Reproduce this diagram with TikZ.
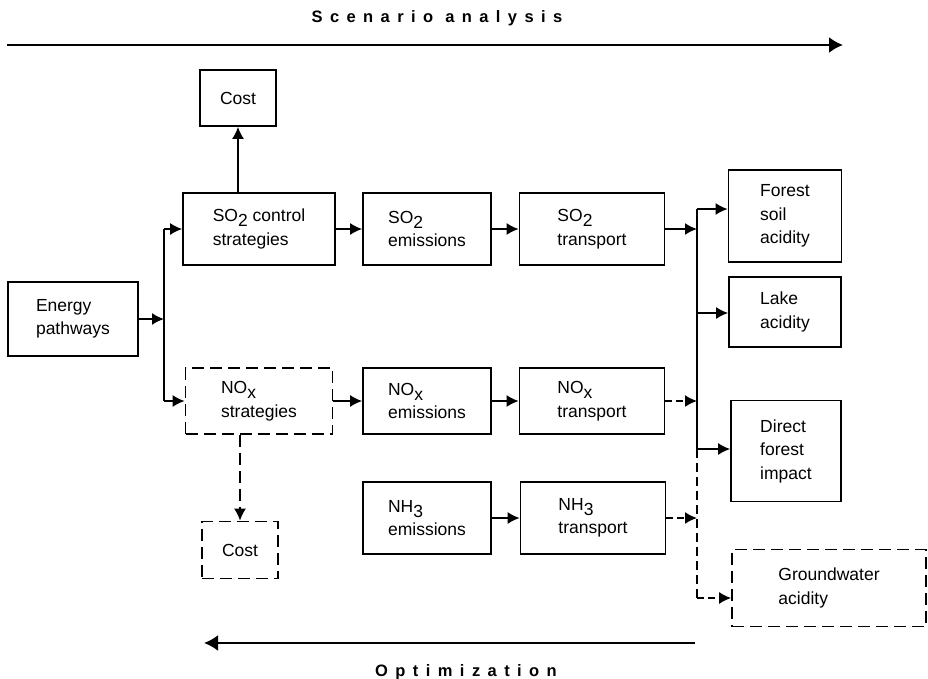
\documentclass[tikz,border=0pt]{standalone}
\usepackage{fontspec}
\setmainfont{Liberation Sans}
\newfontfamily\spacedfont[LetterSpace=45]{Liberation Sans}
\usetikzlibrary{arrows.meta}
\newcommand{\lowsub}[1]{\raisebox{-0.55ex}{#1}}

\begin{document}
\begin{tikzpicture}[x=1pt, y=-1pt, line width=1.7pt,
  box/.style={draw, align=left, inner sep=0pt, font=\fontsize{17.5}{23.5}\selectfont},
  dbox/.style={box, dash pattern=on 12pt off 6pt},
  tip/.style={-{Latex[length=12pt,width=12pt]}},
  dtip/.style={tip, dash pattern=on 7pt off 4pt},
  title/.style={font=\spacedfont\bfseries\fontsize{16.5}{18}\selectfont}]
\useasboundingbox (0,0) rectangle (928,678);

% scenario and optimization directions
\node[title] (scen) at (437,18) {Scenario analysis};
\node[title] (optim) at (466,672) {Optimization};
\coordinate (sa0) at (7,45);
\coordinate (sa1) at (843,45);
\coordinate (op0) at (695,643);
\coordinate (op1) at (204,643);
\draw[-{Latex[length=14pt,width=16pt]}, line width=2.2pt] (sa0) -- (sa1);
\draw[-{Latex[length=14pt,width=16pt]}, line width=2.2pt] (op0) -- (op1);

% boxes
\node[box, minimum width=130pt, minimum height=74pt] (energy) at (73,319) {Energy\\pathways};
\node[box, minimum width=76pt, minimum height=56pt] (costtop) at (238,98) {Cost};
\node[box, minimum width=152pt, minimum height=72pt] (so2ctl) at (259,229) {SO\lowsub{2} control\\strategies};
\node[box, minimum width=128pt, minimum height=72pt] (so2em) at (427,229) {SO\lowsub{2}\\emissions};
\node[box, minimum width=145pt, minimum height=72pt] (so2tr) at (592,229) {SO\lowsub{2}\\transport};
\node[dbox, minimum width=147pt, minimum height=66pt] (noxst) at (259,401) {NO\lowsub{x}\\strategies};
\node[box, minimum width=128pt, minimum height=66pt] (noxem) at (427,401) {NO\lowsub{x}\\emissions};
\node[box, minimum width=145pt, minimum height=66pt] (noxtr) at (592,401) {NO\lowsub{x}\\transport};
\node[box, minimum width=128pt, minimum height=72pt] (nh3em) at (427,518) {NH\lowsub{3}\\emissions};
\node[box, minimum width=145pt, minimum height=72pt] (nh3tr) at (593,518) {NH\lowsub{3}\\transport};
\node[dbox, minimum width=76pt, minimum height=57pt] (costbot) at (240,550) {Cost};
\node[box, minimum width=113pt, minimum height=92pt] (forest) at (785,216) {Forest\\soil\\acidity};
\node[box, minimum width=112pt, minimum height=70pt] (lake) at (785,312) {Lake\\acidity};
\node[box, minimum width=110pt, minimum height=101pt] (direct) at (786,451) {Direct\\forest\\impact};
\node[dbox, minimum width=194pt, minimum height=77pt] (ground) at (829,588) {Groundwater\\acidity};

% left branch
\coordinate (lbus) at (164,319);
\draw[tip] (energy.east) -- (energy.east -| lbus);
\draw (so2ctl.west -| lbus) -- (noxst.west -| lbus);
\draw[tip] (so2ctl.west -| lbus) -- (so2ctl.west);
\draw[tip] (noxst.west -| lbus) -- (noxst.west);

% chains
\foreach \a/\b in {so2ctl/so2em, so2em/so2tr, noxst/noxem, noxem/noxtr, nh3em/nh3tr}
  \draw[tip] (\a.east) -- (\a.east -| \b.west);
\draw[tip] (so2ctl.north -| costtop) -- (costtop.south);
\draw[tip, dash pattern=on 12pt off 6pt] (noxst.south -| costbot) -- (costbot.north);

% right branch
\coordinate (rbF) at (697,209);
\coordinate (rbL) at (697,313);
\coordinate (rbD) at (697,449);
\coordinate (rbG) at (697,598);
\draw (rbF) -- (rbD);
\draw[dash pattern=on 9pt off 5pt] (rbD) -- (rbG);
\draw[tip] (rbF) -- (rbF -| forest.west);
\draw[tip] (rbL) -- (rbL -| lake.west);
\draw[tip] (rbD) -- (rbD -| direct.west);
\draw[dtip] (rbG) -- (rbG -| ground.west);
\draw[tip] (so2tr.east) -- (so2tr.east -| rbF);
\draw[dtip] (noxtr.east) -- (noxtr.east -| rbF);
\draw[dtip] (nh3tr.east) -- (nh3tr.east -| rbF);
\end{tikzpicture}
\end{document}
